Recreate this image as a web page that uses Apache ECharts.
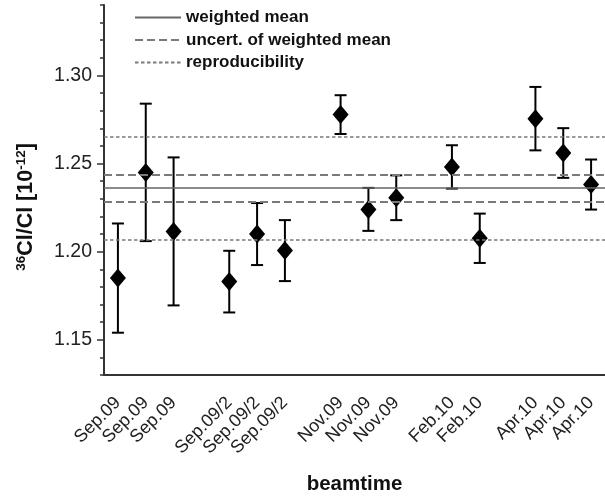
<!DOCTYPE html>
<html>
<head>
<meta charset="utf-8">
<script src="https://cdn.jsdelivr.net/npm/echarts@6/dist/echarts.min.js"></script>
<style>
  html, body { margin: 0; padding: 0; background: #fff; }
  #chart { width: 605px; height: 498px; }
</style>
</head>
<body>
<div id="chart"></div>
<script>
// Beamtime slots along the x axis; empty strings leave a gap between campaigns.
const beamtimes = ['Sep.09', 'Sep.09', 'Sep.09', '', 'Sep.09/2', 'Sep.09/2', 'Sep.09/2', '',
  'Nov.09', 'Nov.09', 'Nov.09', '', 'Feb.10', 'Feb.10', '', 'Apr.10', 'Apr.10', 'Apr.10'];

// Measured 36Cl/Cl ratios [10^-12] per slot (null in gaps) and their 1-sigma uncertainties.
const ratios = [1.185, 1.245, 1.2115, null, 1.183, 1.210, 1.2006, null,
  1.2778, 1.224, 1.2306, null, 1.2481, 1.2076, null, 1.2755, 1.256, 1.2381];
const uncertainties = [0.031, 0.039, 0.042, null, 0.0175, 0.0176, 0.0173, null,
  0.011, 0.0122, 0.0127, null, 0.0123, 0.014, null, 0.018, 0.0141, 0.0142];

// Summary statistics.
const weightedMean = 1.236;
const meanUncertainty = 0.0078;
const reproducibility = 0.0293;

// Y axis labels and range.
const yMajorTicks = [1.15, 1.20, 1.25, 1.30];
const yMin = 1.13, yMax = 1.34;

const points = [];
const bars = [];
ratios.forEach(function (v, i) {
  if (v == null) return;
  points.push([i, v]);
  bars.push([i, v - uncertainties[i], v + uncertainties[i]]);
});

const FONT = '"Liberation Sans", Arial, sans-serif';
const AXIS_COLOR = '#333';
const REF_COLOR = '#7a7a7a';

function refLine(value) {
  return { yAxis: value };
}

function refMarkLine(style, values) {
  return {
    silent: true,
    precision: 6,
    symbol: ['none', 'none'],
    label: { show: false },
    emphasis: { disabled: true },
    lineStyle: style,
    data: values.map(refLine)
  };
}

const meanStyle = { color: '#666', width: 1.6, type: 'solid' };
const uncertStyle = { color: REF_COLOR, width: 2, type: [8, 4] };
const reproStyle = { color: REF_COLOR, width: 1.6, type: [3.5, 2.5] };

const chart = echarts.init(document.getElementById('chart'), null, { renderer: 'canvas' });

chart.setOption({
  animation: false,
  backgroundColor: '#fff',
  textStyle: { fontFamily: FONT },
  grid: { left: 104, right: 0, top: 5, bottom: 123, containLabel: false, outerBoundsMode: 'none' },
  legend: {
    orient: 'vertical',
    left: 129,
    top: 4,
    itemWidth: 46,
    itemHeight: 14,
    itemGap: 5.5,
    selectedMode: false,
    itemStyle: { opacity: 0 },
    textStyle: { fontFamily: FONT, fontWeight: 'bold', fontSize: 17, color: '#111', padding: [0, 0, 0, 0] },
    data: ['weighted mean', 'uncert. of weighted mean', 'reproducibility']
  },
  xAxis: {
    type: 'category',
    data: beamtimes,
    boundaryGap: true,
    axisLine: { lineStyle: { color: AXIS_COLOR, width: 2 } },
    axisTick: {
      alignWithLabel: true,
      length: 7,
      lineStyle: { color: AXIS_COLOR, width: 1.5 },
      interval: function (idx) { return beamtimes[idx] !== ''; }
    },
    axisLabel: {
      interval: 0,
      rotate: 45,
      margin: 25,
      fontFamily: FONT,
      fontSize: 18,
      color: '#222'
    },
    splitLine: { show: false },
    name: 'beamtime',
    nameLocation: 'middle',
    nameGap: 99,
    nameMoveOverlap: false,
    nameTextStyle: { fontFamily: FONT, fontWeight: 'bold', fontSize: 20.5, color: '#111' }
  },
  yAxis: [
    {
      type: 'value',
      min: yMin,
      max: yMax,
      position: 'left',
      axisLine: { show: true, lineStyle: { color: AXIS_COLOR, width: 2 } },
      axisTick: { show: true, length: 7, customValues: yMajorTicks, lineStyle: { color: AXIS_COLOR, width: 1.5 } },
      axisLabel: {
        customValues: yMajorTicks,
        margin: 12,
        fontFamily: FONT,
        fontSize: 19.5,
        color: '#222',
        formatter: function (v) { return v.toFixed(2); }
      },
      splitLine: { show: false }
    },
    {
      type: 'value',
      min: yMin,
      max: yMax,
      interval: 0.01,
      position: 'left',
      offset: 0,
      axisLine: { show: false },
      axisTick: { show: true, length: 4, lineStyle: { color: AXIS_COLOR, width: 1.5 } },
      axisLabel: { show: false },
      splitLine: { show: false }
    }
  ],
  graphic: [
    {
      type: 'text',
      x: 26,
      y: 207,
      rotation: Math.PI / 2,
      style: {
        text: '{sup|36}{b|Cl/Cl [10}{sup|-12}{b|]}',
        align: 'center',
        verticalAlign: 'middle',
        fill: '#111',
        rich: {
          b: { fontFamily: FONT, fontWeight: 'bold', fontSize: 21.5, fill: '#111', lineHeight: 24 },
          sup: { fontFamily: FONT, fontWeight: 'bold', fontSize: 13.5, fill: '#111', verticalAlign: 'top', lineHeight: 24, padding: [0, 0, 7, 0] }
        }
      }
    }
  ],
  series: [
    {
      name: 'weighted mean',
      type: 'line',
      data: [],
      symbol: 'none',
      lineStyle: meanStyle,
      itemStyle: { color: '#666' },
      markLine: refMarkLine(meanStyle, [weightedMean])
    },
    {
      name: 'uncert. of weighted mean',
      type: 'line',
      data: [],
      symbol: 'none',
      lineStyle: uncertStyle,
      itemStyle: { color: REF_COLOR },
      markLine: refMarkLine(uncertStyle, [weightedMean + meanUncertainty, weightedMean - meanUncertainty])
    },
    {
      name: 'reproducibility',
      type: 'line',
      data: [],
      symbol: 'none',
      lineStyle: reproStyle,
      itemStyle: { color: REF_COLOR },
      markLine: refMarkLine(reproStyle, [weightedMean + reproducibility, weightedMean - reproducibility])
    },
    {
      name: 'error bars',
      type: 'custom',
      silent: true,
      z: 3,
      data: bars,
      encode: { x: 0, y: [1, 2] },
      renderItem: function (params, api) {
        const lo = api.coord([api.value(0), api.value(1)]);
        const hi = api.coord([api.value(0), api.value(2)]);
        const cap = 6;
        const style = { stroke: '#000', lineWidth: 2 };
        return {
          type: 'group',
          children: [
            { type: 'line', shape: { x1: lo[0], y1: lo[1], x2: hi[0], y2: hi[1] }, style: style },
            { type: 'line', shape: { x1: hi[0] - cap, y1: hi[1], x2: hi[0] + cap, y2: hi[1] }, style: style },
            { type: 'line', shape: { x1: lo[0] - cap, y1: lo[1], x2: lo[0] + cap, y2: lo[1] }, style: style }
          ]
        };
      }
    },
    {
      name: 'ratio',
      type: 'scatter',
      z: 4,
      silent: true,
      symbol: 'diamond',
      symbolSize: [16, 19],
      itemStyle: { color: '#000', opacity: 1 },
      data: points
    }
  ]
});
</script>
</body>
</html>
